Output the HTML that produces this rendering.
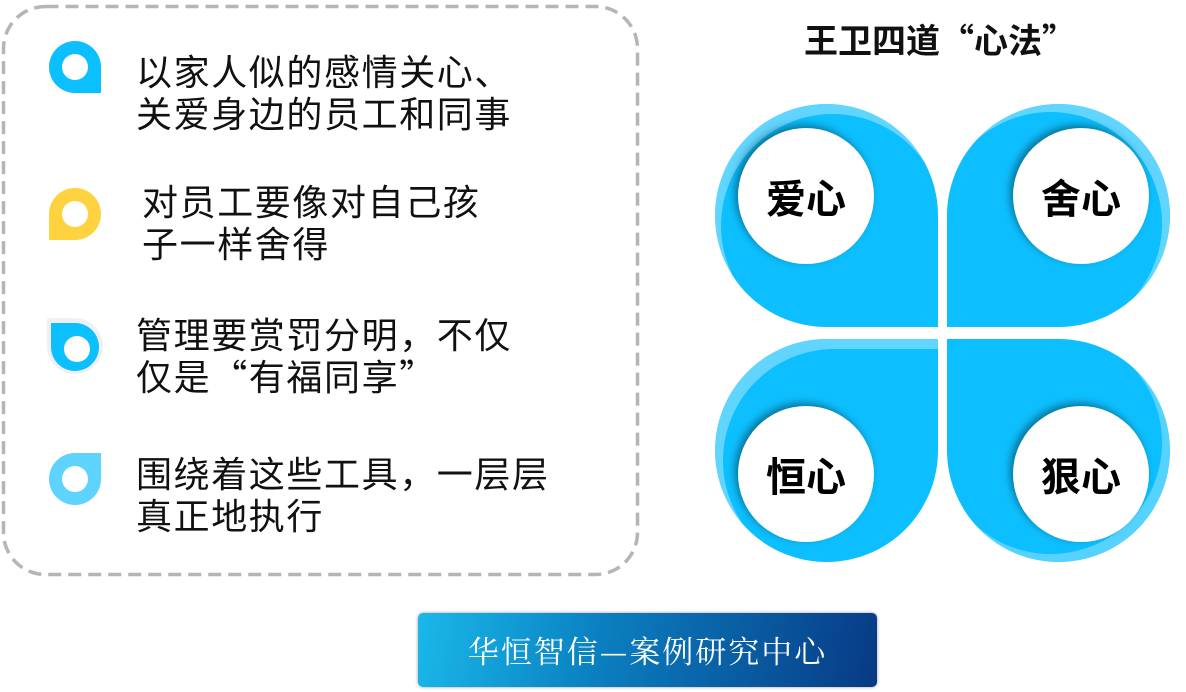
<!DOCTYPE html>
<html><head><meta charset="utf-8"><style>
body{margin:0;width:1186px;height:692px;background:#fff;position:relative;overflow:hidden;font-family:"Liberation Sans","Noto Sans CJK SC",sans-serif}
.t{position:absolute;font-size:36px;line-height:42px;color:#111;white-space:nowrap;letter-spacing:1.6px}
.ic{position:absolute;width:52px;height:52px;border-radius:26px}
.ic::after{content:"";position:absolute;left:13px;top:13px;width:26px;height:26px;border-radius:50%;background:#fff}
.p{position:absolute;width:223px;height:223px;background:#0dbffe;overflow:hidden}
.c{position:absolute;width:136px;height:136px;border-radius:50%;background:#fff;box-shadow:-3px -3px 8px rgba(0,0,0,.4);font-weight:bold;font-size:40px;line-height:136px;text-align:center;color:#000;font-family:"Noto Sans CJK SC",sans-serif}
.ring{position:absolute;inset:0;border-radius:inherit}
</style></head><body>
<svg style="position:absolute;left:0;top:0" width="650" height="590"><rect x="3.5" y="6.5" width="634" height="568" rx="42" fill="none" stroke="#b5b5b5" stroke-width="3.5" stroke-dasharray="13 7"/></svg>
<div class="ic" style="left:49px;top:41px;background:#0cbffe;border-bottom-right-radius:0"></div>
<div class="ic" style="left:49px;top:188px;background:#ffd23f;border-bottom-left-radius:0"></div>
<div class="ic" style="left:47px;top:318px;width:56px;height:56px;border-radius:28px;border-top-left-radius:2px;background:#f0f0f0"></div>
<div class="ic" style="left:51px;top:323px;width:48px;height:48px;background:#0cbffe;border-top-left-radius:0"></div>
<div class="ic" style="left:49px;top:453px;background:#5dd3fe;border-top-right-radius:0"></div>
<div class="t" style="left:136px;top:52px">以家人似的感情关心、<br>关爱身边的员工和同事</div>
<div class="t" style="left:142px;top:182px">对员工要像对自己孩<br>子一样舍得</div>
<div class="t" style="left:136px;top:312px;font-family:'Noto Sans CJK SC',sans-serif">管理要赏罚分明，不仅<br>仅是“有福同享”</div>
<div class="t" style="left:136px;top:454px">围绕着这些工具，一层层<br>真正地执行</div>
<div style="position:absolute;left:780px;top:14px;width:320px;text-align:center;font-weight:bold;font-size:34px;color:#111;font-family:'Noto Sans CJK SC',sans-serif;letter-spacing:0px">王卫四道“心法”</div>
<div class="p" style="left:715px;top:104px;border-radius:112px 112px 0 112px"><div class="ring" style="box-shadow:inset 6px 10px 0 rgba(255,255,255,.35)"></div></div>
<div class="p" style="left:947px;top:104px;border-radius:112px 112px 112px 0"><div class="ring" style="box-shadow:inset -8px 8px 0 rgba(255,255,255,.35)"></div></div>
<div class="p" style="left:715px;top:339px;border-radius:112px 0 112px 112px"><div class="ring" style="box-shadow:inset 8px 10px 0 rgba(255,255,255,.35)"></div></div>
<div class="p" style="left:947px;top:339px;border-radius:0 112px 112px 112px"><div class="ring" style="box-shadow:inset -8px -8px 0 rgba(255,255,255,.3)"></div></div>
<div class="c" style="left:738px;top:128px">爱心</div>
<div class="c" style="left:1013px;top:128px">舍心</div>
<div class="c" style="left:738px;top:406px">恒心</div>
<div class="c" style="left:1013px;top:406px">狠心</div>
<div style="position:absolute;left:418px;top:613px;width:459px;height:74px;border-radius:5px;background:linear-gradient(100deg,#1ab8ea 0%,#0a7fbf 40%,#083a85 100%);box-shadow:0 0 3px #999;color:#fff;font-family:'Noto Serif CJK SC',serif;font-size:31px;line-height:74px;text-align:center;letter-spacing:2px">华恒智信—案例研究中心</div>
</body></html>
